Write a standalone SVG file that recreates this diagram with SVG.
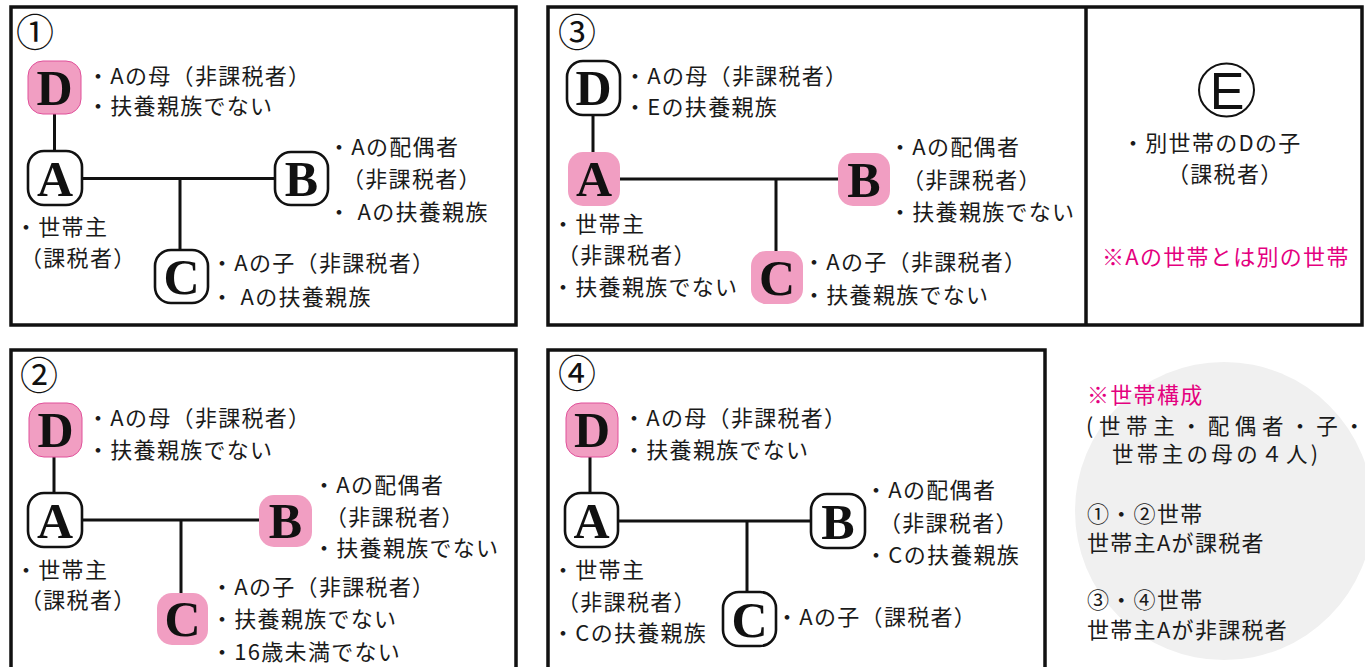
<svg xmlns="http://www.w3.org/2000/svg" width="1365" height="667" viewBox="0 0 1365 667">
<style>
.panel{fill:none;stroke:#111;stroke-width:3.5}
.t{font-family:"Noto Sans CJK JP","Noto Sans CJK SC",sans-serif;font-size:22px;letter-spacing:1.3px;fill:#1a1a1a}
.s{font-size:21.5px;letter-spacing:0}
.pk{fill:#e4007f}
.num{font-family:"Noto Sans CJK JP",sans-serif;font-size:38px;fill:#111}
.ln{stroke:#111;stroke-width:3;fill:none}
.nw{fill:#fff;stroke:#111;stroke-width:2.6}
.np{fill:#f19ec2;stroke:none}
.npd{fill:#f19ec2;stroke:#e0509a;stroke-width:1}
.lt{font-family:"Liberation Serif",serif;font-weight:bold;font-size:50px;fill:#111;text-anchor:middle}
</style>
<rect width="1365" height="667" fill="#fff"/>
<circle cx="1224" cy="511" r="149" fill="#f0f0f0"/>
<!-- panels -->
<rect class="panel" x="11" y="7" width="505" height="318"/>
<rect class="panel" x="548" y="7" width="814" height="318"/>
<line class="panel" x1="1086" y1="7" x2="1086" y2="325"/>
<rect class="panel" x="11" y="350" width="505" height="330"/>
<rect class="panel" x="548" y="350" width="497" height="330"/>
<text class="num" x="16" y="46">①</text>
<text class="num" x="558" y="46">③</text>
<text class="num" x="20" y="389">②</text>
<text class="num" x="558" y="387">④</text>
<g id="connectors">
<path class="ln" d="M54.5 87.5V178.5H301.5M180 178.5V276.5"/>
<path class="ln" d="M593 88V179H864M776 179V277"/>
<path class="ln" d="M54 430V520H285.5M181 520V619"/>
<path class="ln" d="M590 430V521H838M747 521V619"/>
</g>
<!-- panel 1 -->
<g id="p1-D"><rect class="npd" x="28" y="61" width="53" height="53" rx="15"/><text class="lt" x="54.5" y="105">D</text></g>
<g id="p1-A"><rect class="nw" x="28" y="151" width="54" height="54" rx="16"/><text class="lt" x="55" y="196">A</text></g>
<g id="p1-B"><rect class="nw" x="275" y="152" width="53" height="53" rx="16"/><text class="lt" x="301.5" y="196">B</text></g>
<g id="p1-C"><rect class="nw" x="155" y="250" width="53" height="53" rx="16"/><text class="lt" x="181.5" y="294">C</text></g>
<g id="p1-texts">
<text class="t" x="87" y="84">・Aの母（非課税者）</text>
<text class="t" x="87" y="114">・扶養親族でない</text>
<text class="t" x="328" y="155">・Aの配偶者</text>
<text class="t" x="342" y="187">（非課税者）</text>
<text class="t" x="328" y="220">・ Aの扶養親族</text>
<text class="t" x="15" y="235">・世帯主</text>
<text class="t" x="20" y="266">（課税者）</text>
<text class="t" x="211" y="271">・Aの子（非課税者）</text>
<text class="t" x="211" y="305">・ Aの扶養親族</text>
</g>
<!-- panel 3 -->
<g id="p3-D"><rect class="nw" x="567" y="61" width="53" height="54" rx="16"/><text class="lt" x="593.5" y="105">D</text></g>
<g id="p3-A"><rect class="np" x="568" y="152" width="52" height="54" rx="15"/><text class="lt" x="594" y="196">A</text></g>
<g id="p3-B"><rect class="np" x="838" y="153" width="52" height="53" rx="15"/><text class="lt" x="864" y="197">B</text></g>
<g id="p3-C"><rect class="np" x="751" y="251" width="52" height="53" rx="15"/><text class="lt" x="777" y="295">C</text></g>
<g id="p3-texts">
<text class="t" x="624" y="84">・Aの母（非課税者）</text>
<text class="t" x="624" y="115">・Eの扶養親族</text>
<text class="t" x="889" y="155">・Aの配偶者</text>
<text class="t" x="902" y="188">（非課税者）</text>
<text class="t" x="889" y="220">・扶養親族でない</text>
<text class="t" x="552" y="232">・世帯主</text>
<text class="t" x="557" y="263">（非課税者）</text>
<text class="t" x="552" y="295">・扶養親族でない</text>
<text class="t" x="803" y="270">・Aの子（非課税者）</text>
<text class="t" x="803" y="303">・扶養親族でない</text>
</g>
<!-- E panel -->
<g id="E">
<ellipse cx="1226.5" cy="90" rx="27.5" ry="26.5" fill="#fff" stroke="#111" stroke-width="2"/>
<text x="1227" y="109" text-anchor="middle" font-family="Liberation Sans,sans-serif" font-size="52" fill="#111">E</text>
<text class="t" x="1122" y="151">・別世帯のDの子</text>
<text class="t" x="1167" y="182">（課税者）</text>
<text class="t pk" x="1102" y="265">※Aの世帯とは別の世帯</text>
</g>
<!-- panel 2 -->
<g id="p2-D"><rect class="npd" x="29" y="403" width="53" height="54" rx="15"/><text class="lt" x="55.5" y="447">D</text></g>
<g id="p2-A"><rect class="nw" x="28" y="493" width="54" height="54" rx="16"/><text class="lt" x="55" y="538">A</text></g>
<g id="p2-B"><rect class="np" x="259" y="495" width="53" height="52" rx="15"/><text class="lt" x="285.5" y="538">B</text></g>
<g id="p2-C"><rect class="np" x="157" y="593" width="51" height="52" rx="15"/><text class="lt" x="182.5" y="636">C</text></g>
<g id="p2-texts">
<text class="t" x="87" y="426">・Aの母（非課税者）</text>
<text class="t" x="87" y="458">・扶養親族でない</text>
<text class="t" x="313" y="493">・Aの配偶者</text>
<text class="t" x="325" y="525">（非課税者）</text>
<text class="t" x="313" y="556">・扶養親族でない</text>
<text class="t" x="15" y="578">・世帯主</text>
<text class="t" x="20" y="608">（課税者）</text>
<text class="t" x="211" y="595">・Aの子（非課税者）</text>
<text class="t" x="211" y="627">・扶養親族でない</text>
<text class="t" x="211" y="660">・16歳未満でない</text>
</g>
<!-- panel 4 -->
<g id="p4-D"><rect class="npd" x="566" y="403" width="52" height="54" rx="15"/><text class="lt" x="592" y="447">D</text></g>
<g id="p4-A"><rect class="nw" x="565" y="493" width="53" height="54" rx="16"/><text class="lt" x="591.5" y="538">A</text></g>
<g id="p4-B"><rect class="nw" x="811" y="494" width="54" height="54" rx="16"/><text class="lt" x="838" y="539">B</text></g>
<g id="p4-C"><rect class="nw" x="723" y="592" width="53" height="54" rx="16"/><text class="lt" x="749.5" y="637">C</text></g>
<g id="p4-texts">
<text class="t" x="623" y="426">・Aの母（非課税者）</text>
<text class="t" x="623" y="458">・扶養親族でない</text>
<text class="t" x="865" y="498">・Aの配偶者</text>
<text class="t" x="879" y="531">（非課税者）</text>
<text class="t" x="865" y="563">・Cの扶養親族</text>
<text class="t" x="552" y="578">・世帯主</text>
<text class="t" x="557" y="610">（非課税者）</text>
<text class="t" x="552" y="641">・Cの扶養親族</text>
<text class="t" x="776" y="625">・Aの子（課税者）</text>
</g>
<!-- notes -->
<g id="notes">
<text class="t pk" x="1087" y="403">※世帯構成</text>
<text class="t s" x="1086" y="434" textLength="279" lengthAdjust="spacing">(世帯主・配偶者・子・</text>
<text class="t s" x="1112" y="462" textLength="206" lengthAdjust="spacing">世帯主の母の４人)</text>
<text class="t" x="1087" y="522">①・②世帯</text>
<text class="t" x="1087" y="551">世帯主Aが課税者</text>
<text class="t" x="1087" y="608">③・④世帯</text>
<text class="t" x="1087" y="638">世帯主Aが非課税者</text>
</g>
</svg>
